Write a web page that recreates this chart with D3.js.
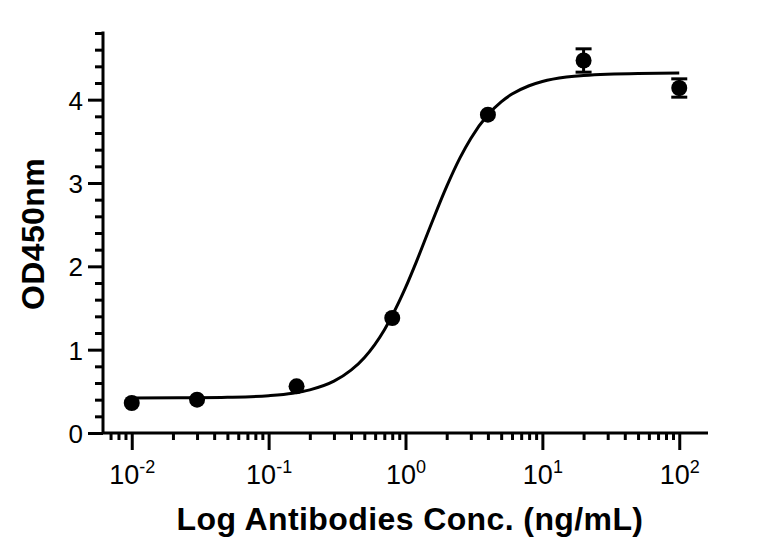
<!DOCTYPE html>
<html><head><meta charset="utf-8">
<script src="https://cdn.jsdelivr.net/npm/d3@7"></script>
<style>
html,body{margin:0;padding:0;background:#fff;}
svg{display:block;font-family:"Liberation Sans",Arial,Helvetica,sans-serif;}
</style></head>
<body><svg id="c" width="772" height="545"></svg>
<script>
// Data
const concentrations = [0.01, 0.03, 0.16, 0.8, 4, 20, 100];
const od450 = [0.36, 0.40, 0.56, 1.38, 3.82, 4.47, 4.14];
const errors = [0, 0, 0, 0, 0, 0.14, 0.11];
// fitted curve
const curveX = [0.01, 0.03, 0.05, 0.1, 0.15, 0.2, 0.3, 0.4, 0.5, 0.7, 0.8, 1, 1.2, 1.5, 2, 2.5, 3, 4, 5, 6, 8, 10, 15, 20, 50, 100];
const curveY = [0.42, 0.423, 0.428, 0.448, 0.478, 0.518, 0.622, 0.754, 0.904, 1.237, 1.41, 1.744, 2.054, 2.457, 2.959, 3.301, 3.535, 3.818, 3.973, 4.067, 4.167, 4.218, 4.271, 4.291, 4.315, 4.319];
const xMajorTicks = [0.01, 0.1, 1, 10, 100];
const xExponents = ["-2", "-1", "0", "1", "2"];
const yMajorTicks = [0, 1, 2, 3, 4];

const svg = d3.select("#c");
const x = d3.scaleLog().domain([Math.pow(10, -2.21), Math.pow(10, 2.21)]).range([103, 708]);
const y = d3.scaleLinear().domain([0, 4.8]).range([433, 33]);

// minor ticks
const xMinor = [];
[-3, -2, -1, 0, 1, 2].forEach(e => { for (let k = 2; k <= 9; k++) { const v = k * Math.pow(10, e); if (v >= x.domain()[0] && v <= x.domain()[1]) xMinor.push(v); } });
const yMinor = d3.range(1, 25).map(i => +(i * 0.2).toFixed(1)).filter(v => Math.abs(v - Math.round(v)) > 1e-6);

function styleAxis(g) {
  g.selectAll("path").attr("stroke", "#000").attr("stroke-width", 3);
  g.selectAll("line").attr("stroke", "#000").attr("stroke-width", 3);
}

// X axis
const gxMinor = svg.append("g").attr("transform", "translate(0,433)")
  .call(d3.axisBottom(x).tickValues(xMinor).tickSize(7).tickSizeOuter(0).tickFormat(""));
styleAxis(gxMinor);
gxMinor.select("path").remove();
const gx = svg.append("g").attr("transform", "translate(0,433)")
  .call(d3.axisBottom(x).tickValues(xMajorTicks).tickSize(17).tickSizeOuter(0).tickFormat(""));
styleAxis(gx);
gx.select("path").attr("d", `M${x.range()[0]},0H${x.range()[1]}`);
gx.selectAll(".tick").append("text")
  .attr("y", 51).attr("fill", "#000").attr("text-anchor", "middle")
  .style("font-size", "27px")
  .each(function (d, i) {
    const t = d3.select(this);
    t.append("tspan").text("10");
    t.append("tspan").attr("dy", -11).style("font-size", "18px").text(xExponents[i]);
  });

// Y axis
const gyMinor = svg.append("g").attr("transform", "translate(103,0)")
  .call(d3.axisLeft(y).tickValues(yMinor).tickSize(8).tickSizeOuter(0).tickFormat(""));
styleAxis(gyMinor);
gyMinor.select("path").remove();
const gy = svg.append("g").attr("transform", "translate(103,0)")
  .call(d3.axisLeft(y).tickValues(yMajorTicks).tickSize(15).tickSizeOuter(0).tickFormat(d3.format("d")));
styleAxis(gy);
gy.select("path").attr("d", `M0,${y.range()[1] - 1.5}V${y.range()[0]}`);
gy.selectAll("text").attr("x", -20).attr("fill", "#000").style("font-size", "26px").attr("dy", "0.36em");

// Curve
const line = d3.line().x(d => x(d[0])).y(d => y(d[1])).curve(d3.curveMonotoneX);
svg.append("path").datum(curveX.map((v, i) => [v, curveY[i]]))
  .attr("d", line).attr("fill", "none").attr("stroke", "#000").attr("stroke-width", 3);

// Error bars
const pts = concentrations.map((c, i) => ({ c, v: od450[i], e: errors[i] }));
const eb = svg.append("g").selectAll("g").data(pts.filter(d => d.e > 0)).join("g");
eb.append("line").attr("x1", d => x(d.c)).attr("x2", d => x(d.c))
  .attr("y1", d => y(d.v + d.e)).attr("y2", d => y(d.v - d.e)).attr("stroke", "#000").attr("stroke-width", 3);
eb.append("line").attr("x1", d => x(d.c) - 8).attr("x2", d => x(d.c) + 8)
  .attr("y1", d => y(d.v + d.e)).attr("y2", d => y(d.v + d.e)).attr("stroke", "#000").attr("stroke-width", 3);
eb.append("line").attr("x1", d => x(d.c) - 8).attr("x2", d => x(d.c) + 8)
  .attr("y1", d => y(d.v - d.e)).attr("y2", d => y(d.v - d.e)).attr("stroke", "#000").attr("stroke-width", 3);

// Points
svg.append("g").selectAll("circle").data(pts).join("circle")
  .attr("cx", d => x(d.c)).attr("cy", d => y(d.v)).attr("r", 8).attr("fill", "#000");

// Titles
svg.append("text").attr("x", 410).attr("y", 530).attr("text-anchor", "middle")
  .style("font-size", "32px").style("font-weight", "bold").style("letter-spacing", "0.4px")
  .text("Log Antibodies Conc. (ng/mL)");
svg.append("text").attr("transform", "translate(44,234) rotate(-90)").attr("text-anchor", "middle")
  .style("font-size", "32px").style("font-weight", "bold").style("letter-spacing", "0.4px")
  .text("OD450nm");
</script></body></html>
